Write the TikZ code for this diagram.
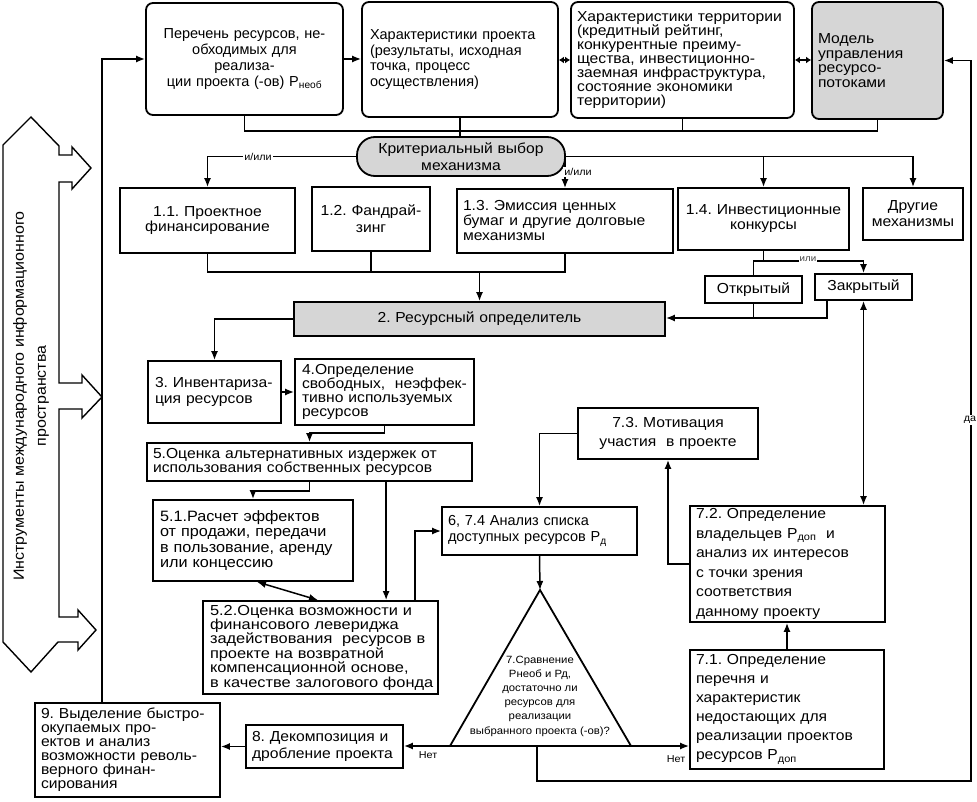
\documentclass[tikz,border=0pt]{standalone}
\usepackage{fontspec}
\setmainfont[FakeStretch=1.08]{Liberation Sans}
\newfontfamily\nf{Liberation Sans}
\newfontfamily\wf[FakeStretch=1.13]{Liberation Sans}
\usetikzlibrary{arrows.meta,calc}
\newcommand\fsz[2]{\fontsize{#1}{#2}\selectfont}
\newcommand\mb[1]{\mbox{#1}}
\frenchspacing
\begin{document}
\frenchspacing
\begin{tikzpicture}[x=1pt,y=-1pt,
  bx/.style={draw, line width=1.8pt, inner sep=0pt},
  rbx/.style={bx, rounded corners=7pt},
  gry/.style={fill=black!16},
  dim/.style n args={3}{minimum width=#1pt, minimum height=#2pt, text width=#3pt},
  tx/.style={font=\fsz{14.5}{#1}},
  ln/.style={line width=1.5pt},
  ar/.style={ln, -{Latex[length=9pt,width=7pt]}},
  dar/.style={ln, {Latex[length=9pt,width=7pt]}-{Latex[length=9pt,width=7pt]}},
  sar/.style={ln, {Latex[length=5pt,width=7pt]}-{Latex[length=5pt,width=7pt]}},
  lbl/.style={font=\fsz{10}{11}, inner sep=1pt, fill=white},
]
\fill[white] (0,0) rectangle (977,802);
\useasboundingbox (0,0) rectangle (977,802);

% left column
\draw[line width=1.4pt, line join=miter] (3,145) -- (31,117) -- (59,146) -- (59,155) -- (72,155) -- (72,147) -- (91,168) -- (72,189) -- (72,182) -- (59,182) -- (59,383) -- (82,383) -- (82,375) -- (102,397) -- (82,418) -- (82,409) -- (59,409) -- (59,617) -- (78,617) -- (78,610) -- (96,630) -- (78,650) -- (78,642) -- (58,642) -- (31,672) -- (3,642) -- cycle;
\node[rotate=90, font=\fsz{14.8}{22}, align=center] (inst) at (31,396) {Инструменты международного информационного\\пространства};

% top row
\node[rbx, dim={197}{112}{190}, align=center, font=\nf\fsz{14.5}{16}] (A) at (244.5,59) {Перечень ресурсов, не-\\обходимых для\\реализа-\\ции проекта (-ов) P\textsubscript{необ}};
\node[rbx, dim={196}{115}{180}, align=left, font=\nf\fsz{14.5}{15.5}] (B) at (460,59.5) {\mb{Характеристики проекта}\\\mb{(результаты, исходная}\\\mb{точка, процесс}\\\mb{осуществления)}};
\node[rbx, dim={223}{116}{211}, align=left, tx=14] (C) at (682.5,60) {\mb{Характеристики территории}\\\mb{(кредитный рейтинг,}\\\mb{конкурентные преиму-}\\\mb{щества, инвестиционно-}\\\mb{заемная инфраструктура,}\\\mb{состояние экономики}\\\mb{территории)}};
\node[rbx, gry, dim={131}{117}{119}, align=left, tx=14.5] (D) at (877.5,60.5) {Модель\\управления\\ресурсо-\\потоками};
\node[bx, gry, rounded corners=18pt, dim={208}{39}{200}, align=center, tx=16.5] (E) at (461,156.5) {Критериальный выбор\\механизма};

% mechanisms
\node[bx, dim={175}{65}{170}, align=center, tx=15] (L11) at (207.5,220.5) {1.1. Проектное\\финансирование};
\node[bx, dim={118}{64}{112}, align=center, tx=17] (L12) at (371,219) {1.2. Фандрай-\\зинг};
\node[bx, dim={216}{64}{204}, align=left, tx=15] (L13) at (565,221) {\mb{1.3. Эмиссия ценных}\\\mb{бумаг и другие долговые}\\\mb{механизмы}};
\node[bx, dim={171}{62}{165}, align=center, tx=15] (L14) at (763.5,219) {1.4. Инвестиционные\\конкурсы};
\node[bx, dim={100}{52}{96}, align=center, tx=16] (Dr) at (913,214) {Другие\\механизмы};
\node[bx, gry, dim={371}{34}{360}, align=center, tx=16] (R2) at (479.5,319) {2. Ресурсный определитель};
\node[bx, dim={97}{27}{95}, align=center, tx=16] (Op) at (753.5,289.5) {Открытый};
\node[bx, dim={97}{26}{95}, align=center, tx=16] (Cl) at (863.5,287) {Закрытый};

% middle
\node[bx, dim={133}{62}{119}, align=left, tx=16] (B3) at (214.5,392) {\mb{3. Инвентариза-}\\\mb{ция ресурсов}};
\node[bx, dim={179}{66}{165}, align=left, tx=14] (B4) at (384.5,392) {\mb{4.Определение}\\\mb{свободных,\ \ неэффек-}\\\mb{тивно используемых}\\\mb{ресурсов}};
\node[bx, dim={325}{38}{313}, align=left, tx=14] (B5) at (309.5,462) {\mb{5.Оценка альтернативных издержек от}\\\mb{использования собственных ресурсов}};
\node[bx, dim={200}{81}{186}, align=left, font=\fsz{15}{15.3}] (B51) at (253,540.5) {\mb{5.1.Расчет эффектов}\\\mb{от продажи, передачи}\\\mb{в пользование, аренду}\\\mb{или концессию}};
\node[bx, dim={235}{93}{221}, align=left, font=\wf\fsz{14.5}{14.4}] (B52) at (320.5,647.5) {\mb{5.2.Оценка возможности и}\\\mb{финансового левериджа}\\\mb{задействования\ \ ресурсов в}\\\mb{проекте на возвратной}\\\mb{компенсационной основе,}\\\mb{в качестве залогового фонда}};
\node[bx, dim={195}{48}{183}, align=left, font=\nf\fsz{14.5}{16}] (B6) at (539.5,531) {\mb{6, 7.4 Анализ списка}\\\mb{доступных ресурсов P\textsubscript{д}}};
\node[bx, dim={180}{51}{170}, align=center, tx=19] (B73) at (668,433.5) {7.3. Мотивация\\участия\ \ в проекте};
\node[bx, dim={195}{116}{183}, align=left, tx=19.5] (B72) at (787.5,564) {\mb{7.2. Определение}\\\mb{владельцев P\textsubscript{доп}\ \ и}\\\mb{анализ их интересов}\\\mb{с точки зрения}\\\mb{соответствия}\\\mb{данному проекту}};
\node[bx, dim={194}{119}{182}, align=left, tx=19] (B71) at (787,709.5) {\mb{7.1. Определение}\\\mb{перечня и}\\\mb{характеристик}\\\mb{недостающих для}\\\mb{реализации проектов}\\\mb{ресурсов P\textsubscript{доп}}};
\node[bx, dim={157}{43}{145}, align=left, tx=17] (B8) at (324.5,746.5) {\mb{8. Декомпозиция и}\\\mb{дробление проекта}};
\node[bx, dim={185}{94}{173}, align=left, tx=14] (B9) at (127.5,750) {\mb{9. Выделение быстро-}\\\mb{окупаемых про-}\\\mb{ектов и анализ}\\\mb{возможности револь-}\\\mb{верного финан-}\\\mb{сирования}};

% triangle
\coordinate (Tap) at (540,590);
\coordinate (TL) at (450,746);
\coordinate (TR) at (631,746);
\coordinate (Tb) at (537,746);
\draw[line width=1.8pt, line join=miter] (Tap) -- (TR) -- (TL) -- cycle;
\node[align=center, font=\fsz{10.5}{14.2}, inner sep=0pt] (Tt) at (540,696) {7.Сравнение\\Рнеоб и Рд,\\достаточно ли\\ресурсов для\\реализации\\выбранного проекта (-ов)?};

% connectors top
\coordinate (b9t) at ($(B9.north west)+(68,0)$);
\draw[ar] (b9t) |- (A.west);
\draw[ar] (A.east) -- (A.east -| B.west);
\draw[sar] (B.east |- 0,60) -- (C.west |- 0,60);
\draw[sar] (C.east |- 0,60) -- (D.west |- 0,60);
\draw[ln] (A.south) -- (A.south |- 0,131) -- (D.south |- 0,131) -- (D.south);
\draw[ln] (C.south) -- (C.south |- 0,131);
\draw[ln] (B.south) -- (B.south |- E.north);

% from oval
\draw[ar] (E.west) -| (L11.north);
\node[lbl] (io1) at (258,156.5) {и/или};
\draw[ar] (E.east) -| (Dr.north);
\draw[ar] (L14.north |- E.east) -- (L14.north);
\draw[ar] (L13.north |- E.east) -- (L13.north);
\node[lbl] (io2) at (578,172) {и/или};

% to resource determiner
\draw[ln] (L11.south) -- (L11.south |- 0,272) -- (L13.south |- 0,272) -- (L13.south);
\draw[ln] (L12.south) -- (L12.south |- 0,272);
\draw[ar] (R2.north |- 0,272) -- (R2.north);
\draw[ln] (L14.south) -- (L14.south |- 0,261);
\draw[ln] (Op.north) -- (Op.north |- 0,261) -- (Cl.north |- 0,261);
\draw[ar] (Cl.north |- 0,261) -- (Cl.north);
\node[lbl, font=\fsz{9}{10}, text=black!75] (ili) at (808,259) {или};
\coordinate (clb) at ($(Cl.south west)+(13,0)$);
\draw[ln] (Op.south) -- (Op.south |- 0,318);
\draw[ar] (clb) -- (clb |- 0,318) -- (R2.east |- 0,318);
\draw[dar] (Cl.south) -- (Cl.south |- B72.north);

% middle connectors
\draw[ar] (R2.west) -| (B3.north);
\draw[ar] (B3.east) -- (B3.east -| B4.west);
\draw[ar] (B4.south) -- ++(0,7) -| (B5.north);
\draw[ar] (B5.south) -- ++(0,9) -| (B51.north);
\coordinate (b5r) at ($(B5.south west)+(240,0)$);
\draw[ar] (b5r) -- (b5r |- B52.north);
\draw[dar] ($(B51.south)+(4,0)$) -- ($(B52.north)+(-2.5,0)$);
\coordinate (b52t) at ($(B52.north east)+(-24,0)$);
\draw[ar] (b52t) |- (B6.west);
\draw[ar] (B6.south) -- (Tap);
\draw[ar] (TL) -- (TL -| B8.east);
\node[font=\fsz{10}{11}, inner sep=0pt] (no1) at (428,755) {Нет};
\draw[ar] (TR) -- (TR -| B71.west);
\node[font=\fsz{10}{11}, inner sep=0pt] (no2) at (676,759) {Нет};
\draw[ar] (B8.west) -- (B8.west -| B9.east);
\draw[ar] (B71.north) -- (B71.north |- B72.south);
\draw[ar] (B72.west) -| (B73.south);
\draw[ar] (B73.west) -| (B6.north);
\coordinate (rt) at ($(D.east)+(27,0)$);
\draw[ar] (Tb) -- (Tb |- 0,781) -| (rt) -- (D.east);
\node[lbl] (da) at (970,420) {да};
\end{tikzpicture}
\end{document}
